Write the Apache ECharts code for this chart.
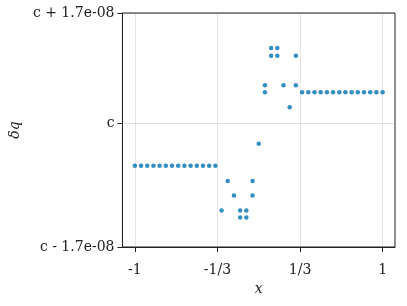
<!DOCTYPE html>
<html>
<head>
<meta charset="utf-8">
<script src="https://cdn.jsdelivr.net/npm/echarts@6/dist/echarts.min.js"></script>
<style>html,body{margin:0;padding:0;background:#fff}#c{width:407px;height:306px}</style>
</head>
<body>
<div id="c"></div>
<script>
// x positions of the points
const xs = [
  -1, -0.95, -0.9, -0.85, -0.8, -0.75, -0.7, -0.65, -0.6, -0.55, -0.5, -0.45, -0.4, -0.35,
  -0.3, -0.25, -0.2, -0.15, -0.15, -0.1, -0.1, -0.05, -0.05, 0,
  0.05, 0.05, 0.1, 0.1, 0.15, 0.15, 0.2, 0.25, 0.3, 0.3,
  0.35, 0.4, 0.45, 0.5, 0.55, 0.6, 0.65, 0.7, 0.75, 0.8, 0.85, 0.9, 0.95, 1
];
// δq - c, in units of 1e-8
const ys = [
  -0.62, -0.62, -0.62, -0.62, -0.62, -0.62, -0.62, -0.62, -0.62, -0.62, -0.62, -0.62, -0.62, -0.62,
  -1.27, -0.84, -1.05, -1.27, -1.37, -1.27, -1.37, -0.84, -1.05, -0.30,
  0.55, 0.45, 1.09, 0.98, 1.09, 0.98, 0.55, 0.23, 0.98, 0.55,
  0.45, 0.45, 0.45, 0.45, 0.45, 0.45, 0.45, 0.45, 0.45, 0.45, 0.45, 0.45, 0.45, 0.45
];
const xTickValues = [-1, -1/3, 1/3, 1];
const xTickLabels = ['-1', '-1/3', '1/3', '1'];
const yMin = -1.8, yMax = 1.6;
const yTickValues = [yMin, 0, yMax];
const yTickLabels = ['c - 1.7e-08', 'c', 'c + 1.7e-08'];

const data = xs.map((x, i) => [x, ys[i]]);
const font = 'DejaVu Serif';
function lab(vals, labs) {
  return v => { for (let i = 0; i < vals.length; i++) if (Math.abs(v - vals[i]) < 1e-6) return labs[i]; return ''; };
}
const chart = echarts.init(document.getElementById('c'), null, {renderer: 'canvas'});
chart.setOption({
  animation: false,
  grid: {left: 121, right: 12, top: 13, bottom: 59, containLabel: false, show: true,
         borderColor: '#222', borderWidth: 1, backgroundColor: 'transparent'},
  xAxis: {
    type: 'value', min: -1.1, max: 1.1,
    name: 'x', nameLocation: 'middle', nameGap: 34,
    nameTextStyle: {fontFamily: font, fontStyle: 'italic', fontSize: 14, color: '#222'},
    axisLine: {show: true, onZero: false, lineStyle: {color: '#222', width: 1}},
    axisTick: {show: true, length: 5, customValues: xTickValues, lineStyle: {color: '#222'}},
    axisLabel: {customValues: xTickValues, formatter: lab(xTickValues, xTickLabels),
                fontFamily: font, fontSize: 14, color: '#222', margin: 16},
    splitLine: {show: true, lineStyle: {color: 'rgba(0,0,0,0.1)', width: 1}}
  },
  yAxis: {
    type: 'value', min: yMin, max: yMax,
    name: 'δq', nameLocation: 'middle', nameGap: 93,
    nameTextStyle: {fontFamily: font, fontStyle: 'italic', fontSize: 14, color: '#222'},
    axisLine: {show: true, onZero: false, lineStyle: {color: '#222', width: 1}},
    axisTick: {show: true, length: 5, customValues: yTickValues, lineStyle: {color: '#222'}},
    axisLabel: {customValues: yTickValues, formatter: lab(yTickValues, yTickLabels),
                fontFamily: font, fontSize: 14, color: '#222', margin: 8},
    splitLine: {show: true, lineStyle: {color: 'rgba(0,0,0,0.1)', width: 1}}
  },
  series: [{
    type: 'scatter', data: data, symbol: 'circle', symbolSize: 4.5,
    itemStyle: {color: '#0072B2'}
  }]
});
</script>
</body>
</html>
